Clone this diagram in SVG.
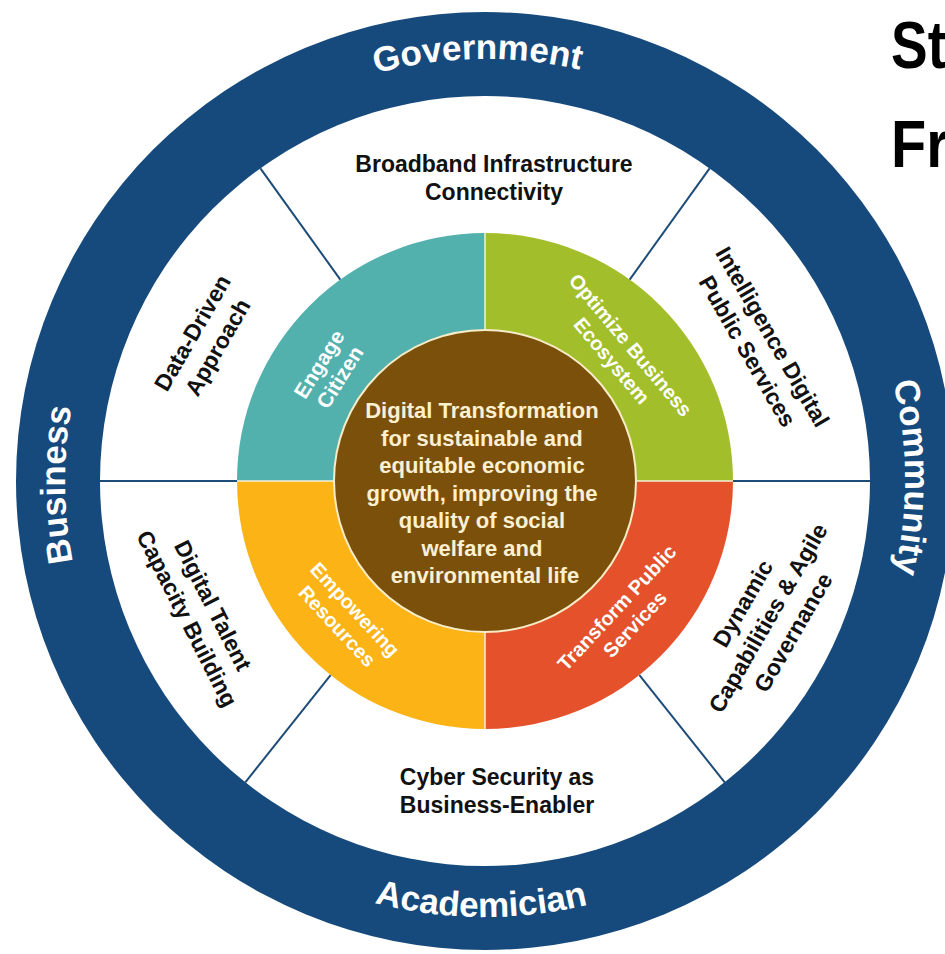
<svg xmlns="http://www.w3.org/2000/svg" width="945" height="954" viewBox="0 0 945 954">
  <style>
    text { font-family: "Liberation Sans", Arial, sans-serif; font-weight: bold; }
    .ring { fill: #ffffff; font-size: 35px; }
    .lbl { fill: #111111; font-size: 23px; text-anchor: middle; }
    .qlbl { fill: #ffffff; font-size: 20px; text-anchor: middle; }
    .ctr { fill: #fcf0d2; font-size: 22px; text-anchor: middle; }
    .title { fill: #000000; font-size: 67px; }
    .div { stroke: #1d4c78; stroke-width: 2; fill: none; }
    .sep { stroke: #f4efd8; stroke-width: 1.5; fill: none; }
  </style>
  <defs>
    <path id="pGov" d="M 86 343.6 A 422 422 0 0 1 879 329.8"/>
    <path id="pCom" d="M 625.2 85.1 A 420 420 0 0 1 632.1 874.4"/>
    <path id="pBus" d="M 344.8 876.9 A 420 420 0 0 1 337.9 87.6"/>
    <path id="pAca" d="M 74 626.5 A 436 436 0 0 0 893.4 633.7"/>
  </defs>
  <rect width="945" height="954" fill="#ffffff"/>

  <g id="outer-ring">
    <circle cx="485" cy="481" r="469" fill="#174a7c"/>
    <circle cx="485" cy="481" r="385" fill="#ffffff"/>
  </g>

  <g id="stakeholder-government">
    <text class="ring"><textPath href="#pGov" startOffset="50%" text-anchor="middle">Government</textPath></text>
  </g>
  <g id="stakeholder-community">
    <text class="ring"><textPath href="#pCom" startOffset="50%" text-anchor="middle">Community</textPath></text>
  </g>
  <g id="stakeholder-business">
    <text class="ring"><textPath href="#pBus" startOffset="50%" text-anchor="middle">Business</textPath></text>
  </g>
  <g id="stakeholder-academician">
    <text class="ring"><textPath href="#pAca" startOffset="50%" text-anchor="middle">Academician</textPath></text>
  </g>

  <g id="quadrants">
    <path id="q-engage" d="M 485 481 L 237 481 A 248 248 0 0 1 485 233 Z" fill="#52b1ad"/>
    <path id="q-optimize" d="M 485 481 L 485 233 A 248 248 0 0 1 733 481 Z" fill="#a2bf2b"/>
    <path id="q-transform" d="M 485 481 L 733 481 A 248 248 0 0 1 485 729 Z" fill="#e4512b"/>
    <path id="q-empower" d="M 485 481 L 485 729 A 248 248 0 0 1 237 481 Z" fill="#fbb316"/>
    <line class="sep" x1="485" y1="233" x2="485" y2="729"/>
    <line class="sep" x1="237" y1="481" x2="733" y2="481"/>
  </g>

  <g id="connectors">
    <line class="div" x1="340.3" y1="279.6" x2="260.4" y2="168.3"/>
    <line class="div" x1="629.7" y1="279.6" x2="709.6" y2="168.3"/>
    <line class="div" x1="639.4" y1="675.1" x2="724.7" y2="782.3"/>
    <line class="div" x1="330.6" y1="675.1" x2="245.3" y2="782.3"/>
    <line class="div" x1="100" y1="481" x2="237" y2="481"/>
    <line class="div" x1="733" y1="481" x2="870" y2="481"/>
  </g>

  <g id="center">
    <circle cx="485" cy="481" r="151" fill="#7b500b" stroke="#f6ecc8" stroke-width="2"/>
    <text class="ctr">
      <tspan x="485" y="418">Digital Transformation</tspan>
      <tspan x="485" y="445.5">for sustainable and</tspan>
      <tspan x="485" y="473">equitable economic</tspan>
      <tspan x="485" y="500.5">growth, improving the</tspan>
      <tspan x="485" y="528">quality of social</tspan>
      <tspan x="485" y="555.5">welfare and</tspan>
      <tspan x="485" y="583">environmental life</tspan>
    </text>
  </g>

  <g id="label-engage" transform="translate(330,371) rotate(-58)">
    <text class="qlbl" style="font-size:21px"><tspan x="0" y="-5.5">Engage</tspan><tspan x="0" y="19">Citizen</tspan></text>
  </g>
  <g id="label-optimize" transform="translate(621,353) rotate(50)">
    <text class="qlbl"><tspan x="0" y="-5.5">Optimize Business</tspan><tspan x="0" y="19">Ecosystem</tspan></text>
  </g>
  <g id="label-empower" transform="translate(346,618) rotate(47)">
    <text class="qlbl"><tspan x="0" y="-5.5">Empowering</tspan><tspan x="0" y="19">Resources</tspan></text>
  </g>
  <g id="label-transform" transform="translate(626,616) rotate(-47)">
    <text class="qlbl"><tspan x="0" y="-5.5">Transform Public</tspan><tspan x="0" y="19">Services</tspan></text>
  </g>

  <g id="node-broadband">
    <text class="lbl"><tspan x="494" y="172">Broadband Infrastructure</tspan><tspan x="494" y="200">Connectivity</tspan></text>
  </g>
  <g id="node-intelligence" transform="translate(760,344) rotate(60)">
    <text class="lbl"><tspan x="0" y="-6.5">Intelligence Digital</tspan><tspan x="0" y="22.5">Public Services</tspan></text>
  </g>
  <g id="node-dynamic" transform="translate(768,618) rotate(-60)">
    <text class="lbl"><tspan x="0" y="-21">Dynamic</tspan><tspan x="0" y="8">Capabilities &amp; Agile</tspan><tspan x="0" y="37">Governance</tspan></text>
  </g>
  <g id="node-cyber">
    <text class="lbl"><tspan x="497" y="785">Cyber Security as</tspan><tspan x="497" y="813">Business-Enabler</tspan></text>
  </g>
  <g id="node-talent" transform="translate(200,612) rotate(63)">
    <text class="lbl"><tspan x="0" y="-6.5">Digital Talent</tspan><tspan x="0" y="22.5">Capacity Building</tspan></text>
  </g>
  <g id="node-datadriven" transform="translate(205,340) rotate(-60)">
    <text class="lbl"><tspan x="0" y="-6.5">Data-Driven</tspan><tspan x="0" y="22.5">Approach</tspan></text>
  </g>

  <g id="title">
    <text class="title" transform="translate(891,68) scale(0.82,1)">St</text>
    <text class="title" transform="translate(891,167) scale(0.86,1)">Fr</text>
  </g>
</svg>
